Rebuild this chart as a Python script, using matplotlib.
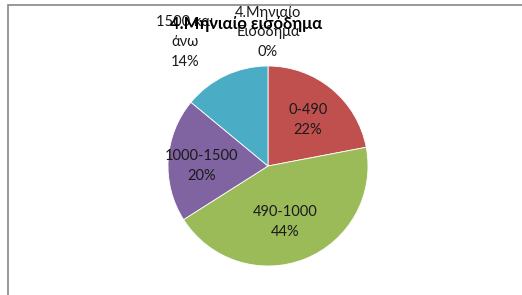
import matplotlib
matplotlib.use("Agg")
import matplotlib.pyplot as plt
from matplotlib.patches import Rectangle

plt.rcParams['font.family'] = ['Lato', 'DejaVu Sans']

# data
categories = ["4.Μηνιαίο\nΕισόδημα", "0-490", "490-1000", "1000-1500", "1500 και\nάνω"]
percents = [0, 22, 44, 20, 14]
colors = ["#4F81BD", "#C0504D", "#9BBB59", "#8064A2", "#4BACC6"]
title = "4.Μηνιαίο εισόδημα"

# label positions (in pie radius units), chosen like Excel's best fit
label_pos = [(0.0, 1.34), (0.40, 0.46), (0.17, -0.56), (-0.66, 0.0), (-0.83, 1.24)]

W, H = 522, 295
fig = plt.figure(figsize=(W / 100, H / 100), dpi=100)
fig.patch.set_facecolor("white")

# chart border
fig.patches.append(Rectangle((8 / W, -0.1), 1.2, (H - 5) / H + 0.1,
                             transform=fig.transFigure, fill=False,
                             edgecolor="#868686", linewidth=1.2))

cx, cy, r = 268, 166, 100
ax = fig.add_axes([(cx - r) / W, (H - cy - r) / H, 2 * r / W, 2 * r / H])
ax.pie(percents, colors=colors, startangle=90, counterclock=False,
       wedgeprops=dict(edgecolor="white", linewidth=0.6))
ax.set_xlim(-1, 1)
ax.set_ylim(-1, 1)

for cat, p, (x, y) in zip(categories, percents, label_pos):
    ax.text(x, y, f"{cat}\n{p}%", ha="center", va="center", fontsize=10.5,
            color="#1a1a1a", linespacing=1.5, clip_on=False)

fig.text(246 / W, 1 - 24 / H, title, ha="center", va="center",
         fontsize=12, fontweight="bold", color="black", zorder=5)

fig.savefig("out.png", dpi=100)
